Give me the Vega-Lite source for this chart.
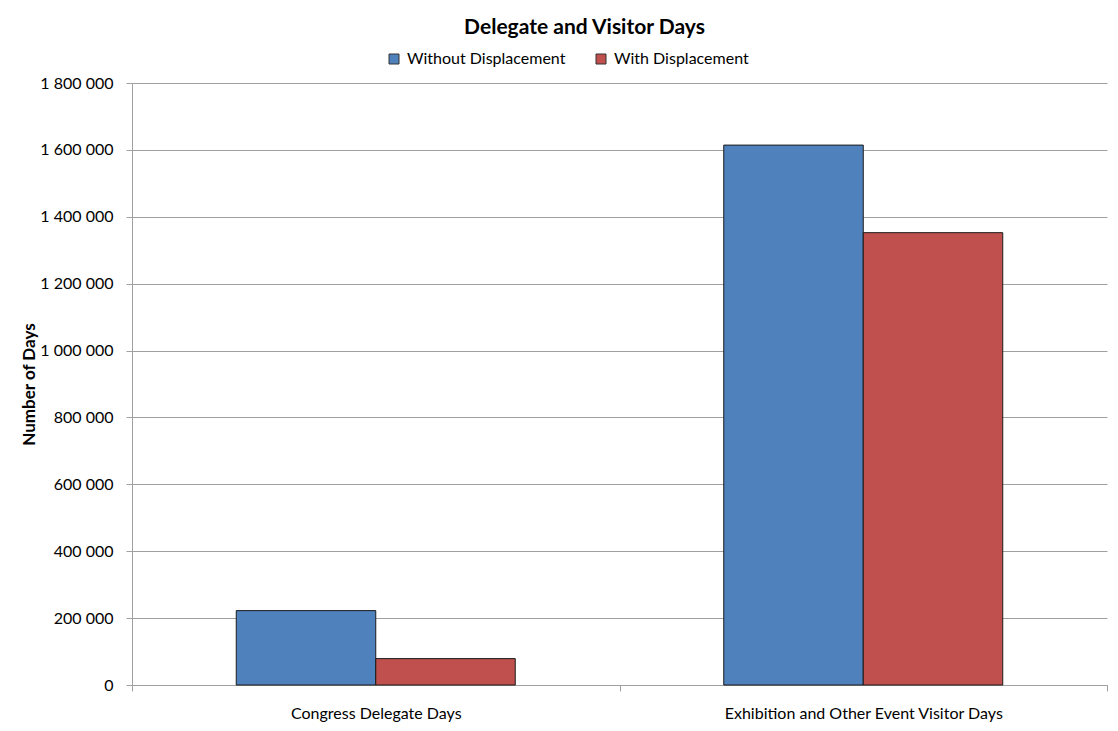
{
  "$schema": "https://vega.github.io/schema/vega-lite/v6.json",
  "autosize": {"type": "none"},
  "width": 975,
  "height": 602,
  "padding": {"left": 132, "top": 83, "right": 11, "bottom": 46},
  "background": "white",
  "config": {
    "view": {"stroke": null},
    "font": "Lato"
  },
  "title": {
    "text": "Delegate and Visitor Days",
    "fontSize": 21,
    "fontWeight": "bold",
    "font": "Lato",
    "color": "black",
    "anchor": "middle",
    "dx": -35,
    "offset": 13
  },
  "data": {
    "values": [
      {"category": "Congress Delegate Days", "series": "Without Displacement", "days": 222400},
      {"category": "Congress Delegate Days", "series": "With Displacement", "days": 78900},
      {"category": "Exhibition and Other Event Visitor Days", "series": "Without Displacement", "days": 1614300},
      {"category": "Exhibition and Other Event Visitor Days", "series": "With Displacement", "days": 1352500}
    ]
  },
  "mark": {"type": "bar", "stroke": "#1a1a1a", "strokeWidth": 1},
  "encoding": {
    "x": {
      "field": "category",
      "type": "nominal",
      "sort": null,
      "scale": {"paddingInner": 0, "paddingOuter": 0},
      "axis": {
        "title": null,
        "labelAngle": 0,
        "labelFontSize": 16,
        "labelLimit": 500,
        "labelColor": "black",
        "labelPadding": 14,
        "tickBand": "extent",
        "tickSize": 6,
        "tickColor": "#a0a0a0",
        "domainColor": "#a0a0a0",
        "grid": false
      }
    },
    "xOffset": {
      "field": "series",
      "type": "nominal",
      "sort": ["Without Displacement", "With Displacement"],
      "scale": {"paddingInner": 0, "paddingOuter": 0.7475}
    },
    "y": {
      "field": "days",
      "type": "quantitative",
      "scale": {"domain": [0, 1800000], "nice": false},
      "axis": {
        "title": "Number of Days",
        "titleFontSize": 17,
        "titleFontWeight": "bold",
        "titleColor": "black",
        "titlePadding": 1,
        "values": [0, 200000, 400000, 600000, 800000, 1000000, 1200000, 1400000, 1600000, 1800000],
        "labelExpr": "replace(replace(format(datum.value, ','), ',', ' '), ',', ' ')",
        "labelFontSize": 16,
        "labelColor": "black",
        "labelPadding": 13,
        "tickSize": 6,
        "tickColor": "#a0a0a0",
        "domainColor": "#a0a0a0",
        "gridColor": "#a0a0a0",
        "gridWidth": 1
      }
    },
    "color": {
      "field": "series",
      "type": "nominal",
      "sort": ["Without Displacement", "With Displacement"],
      "scale": {"domain": ["Without Displacement", "With Displacement"], "range": ["#4F81BD", "#C0504D"]},
      "legend": {
        "title": null,
        "orient": "none",
        "direction": "horizontal",
        "legendX": 254,
        "legendY": -32,
        "symbolType": "square",
        "symbolSize": 100,
        "symbolStrokeColor": "#333333",
        "symbolStrokeWidth": 1,
        "labelFontSize": 16,
        "labelColor": "black",
        "labelOffset": 5,
        "columnPadding": 27
      }
    }
  }
}
